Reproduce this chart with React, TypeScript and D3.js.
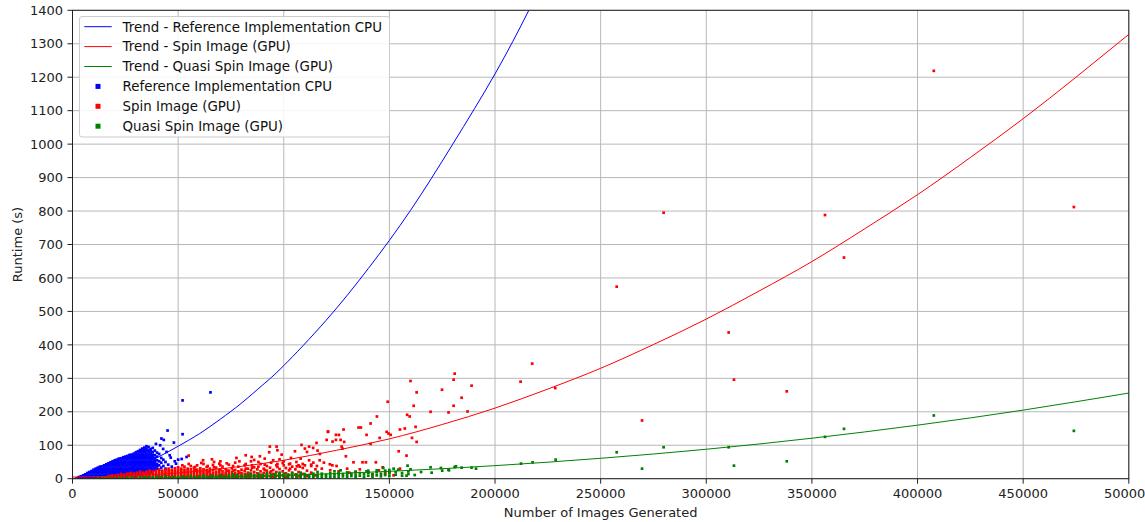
import * as d3 from "d3";
import { useEffect, useRef } from "react";

const xTicks = [0, 50000, 100000, 150000, 200000, 250000, 300000, 350000, 400000, 450000, 500000];
const yTicks = [0, 100, 200, 300, 400, 500, 600, 700, 800, 900, 1000, 1100, 1200, 1300, 1400];

// trend curves, x in thousands of images, y in seconds
const cpuTrend: [number, number][] = [
  [0, 0], [10, 5], [20, 17], [30, 37], [40, 63], [50, 97], [60, 134], [70, 178], [80, 226], [90, 280],
  [100, 338], [120, 473], [140, 628], [160, 802], [180, 1000], [200, 1210], [216, 1400], [230, 1580],
];
const spinTrend: [number, number][] = [
  [0, 5], [25, 8], [50, 17], [75, 33], [100, 55], [125, 85], [150, 119], [175, 162], [200, 211], [225, 268],
  [250, 330], [275, 401], [300, 477], [325, 561], [350, 649], [375, 747], [400, 849], [425, 960], [450, 1076],
  [475, 1200], [500, 1328],
];
const quasiTrend: [number, number][] = [
  [0, 0], [50, 3], [100, 10], [150, 22], [200, 39], [250, 61], [300, 88], [350, 121], [400, 160], [450, 205], [500, 256],
];

// scatter: dense parts as columns [x (k images), runtimes...], sparse parts as [x, y]
const cpuColumns: [number, number[]][] = [
  [2, [1]], [3, [2, 5]], [4, [2, 7]], [5, [3, 10]], [6, [2, 8, 13]], [7, [4, 11, 17]], [8, [2, 9, 16, 20]],
  [9, [5, 12, 19, 23]], [10, [2, 9, 16, 23, 27]], [11, [5, 12, 19, 26, 30]], [12, [2, 9, 16, 23, 30, 33]],
  [13, [5, 12, 19, 26, 33, 36]], [14, [2, 9, 16, 23, 30, 37]], [15, [5, 12, 19, 26, 33, 40]],
  [16, [2, 9, 16, 23, 30, 37, 43]], [17, [5, 12, 19, 26, 33, 40, 46]], [18, [2, 9, 16, 23, 30, 37, 44, 49]],
  [19, [5, 12, 19, 26, 33, 40, 47, 52]], [20, [2, 9, 16, 23, 30, 37, 44, 51, 55]],
  [21, [5, 12, 19, 26, 33, 40, 47, 54, 57]], [22, [2, 9, 16, 23, 30, 37, 44, 51, 58, 60]],
  [23, [5, 12, 19, 26, 33, 40, 47, 54, 61]], [24, [2, 9, 16, 23, 30, 37, 44, 51, 58, 64]],
  [25, [5, 12, 19, 26, 33, 40, 47, 54, 61, 66]], [26, [9, 16, 23, 30, 37, 44, 51, 58, 65, 68]],
  [27, [12, 19, 26, 33, 40, 47, 54, 61, 68, 71]], [28, [9, 16, 23, 30, 37, 44, 51, 58, 65, 72]],
  [29, [12, 19, 26, 33, 40, 47, 54, 61, 68, 75]], [30, [9, 16, 23, 30, 37, 44, 51, 58, 65, 72, 79]],
  [31, [12, 19, 26, 33, 40, 47, 54, 61, 68, 75, 82]], [32, [9, 16, 23, 30, 37, 44, 51, 58, 65, 72, 79, 86]],
  [33, [12, 19, 26, 33, 40, 47, 54, 61, 68, 75, 82, 90]], [34, [16, 23, 30, 37, 44, 51, 58, 65, 72, 79, 86, 93]],
  [35, [19, 26, 33, 40, 47, 54, 61, 68, 75, 82, 90, 97]], [36, [16, 23, 30, 37, 44, 51, 58, 65, 72, 79, 86, 95]],
  [37, [19, 26, 33, 40, 47, 54, 61, 68, 75, 82, 89]], [38, [23, 30, 37, 44, 51, 58, 65, 72, 80, 92]],
  [39, [26, 33, 40, 47, 54, 61, 70, 84]], [40, [30, 37, 44, 55, 66, 78]], [41, [27, 40, 52, 74]],
  [42, [33, 48, 62]], [43, [38, 57]], [44, [30, 50]],
];
const cpuOutliers: [number, number][] = [
  [42.1, 120], [43.2, 116], [45, 144], [48, 108], [52.1, 234], [65.3, 258], [52.1, 133], [42.9, 89], [45.3, 42],
  [48.4, 52], [50, 57], [54, 65], [51.7, 59], [46, 70], [47, 36], [44.5, 80], [49, 45], [46.5, 63], [41.5, 100], [39.5, 104],
];

const spinColumns: [number, number[]][] = [
  [14, [3]], [15.5, [4]], [17, [3, 8]], [18.5, [5, 10]], [20, [3, 9]], [21.5, [5, 11]], [23, [3, 9, 14]],
  [24.5, [6, 12]], [26, [3, 9, 15]], [27.5, [6, 12, 17]], [29, [3, 9, 15]], [30.5, [6, 12, 18]],
  [32, [3, 9, 15, 21]], [33.5, [6, 12, 18]], [35, [3, 9, 15, 21]], [36.5, [6, 12, 18, 24]], [38, [3, 9, 15, 21]],
  [39.5, [6, 12, 18, 24]], [41, [3, 9, 15, 21, 27]], [42.5, [6, 12, 18, 24]], [44, [3, 9, 15, 21, 27]],
  [45.5, [6, 12, 18, 24, 30]], [47, [3, 9, 15, 21, 27]], [48.5, [6, 12, 18, 24, 31]], [50, [3, 9, 15, 21, 27, 34]],
  [51.5, [6, 12, 18, 24, 30]], [53, [3, 9, 15, 21, 27, 36]], [54.5, [6, 12, 18, 24, 30]], [56, [3, 9, 15, 21, 28, 38]],
  [57.5, [6, 12, 18, 24, 33]], [59, [3, 9, 15, 21, 27, 40]], [60.5, [6, 12, 18, 24, 31]], [62, [3, 9, 15, 21, 28, 44]],
  [63.5, [6, 12, 18, 25, 35]], [65, [3, 9, 15, 22, 30]], [66.5, [6, 12, 18, 26, 41]], [68, [3, 9, 15, 21, 33]],
  [69.5, [6, 12, 19, 27, 45]], [71, [3, 9, 15, 22, 36]], [72.5, [6, 12, 18, 28]], [74, [3, 9, 16, 24, 42]],
  [75.5, [6, 13, 20, 31]], [77, [3, 10, 17, 26, 48]], [78.5, [6, 13, 22, 36]], [80, [3, 10, 17, 27]],
  [81.5, [6, 14, 23, 40]], [83, [3, 10, 18, 30]], [84.5, [7, 15, 25, 52]], [86, [3, 11, 20, 34]], [87.5, [7, 16, 28]],
  [89, [4, 12, 22, 44]], [90.5, [8, 17, 30]], [92, [4, 13, 24, 38]], [93.5, [8, 18, 33]], [95, [4, 14, 26, 55]],
  [96.5, [9, 20, 40]], [98, [5, 15, 29]], [99.5, [10, 22, 47]], [101, [5, 16, 32]], [102.5, [11, 25, 43]],
  [104, [6, 18, 36]], [105.5, [12, 28]], [107, [7, 20, 40]], [109, [14, 32]], [111, [8, 24]], [113, [18, 38]], [115, [10, 28]],
];
const spinFill: [number, number][] = [
  [52, 40], [55, 44], [58, 35], [61, 47], [64, 38], [67, 50], [70, 40], [73, 46], [76, 38], [79, 52], [82, 44],
  [85, 40], [88, 50], [91, 42], [94, 48], [97, 35], [100, 52], [103, 45], [106, 50], [64, 20], [70, 28], [76, 24],
  [82, 30], [88, 36], [94, 22], [100, 40], [58, 26], [67, 34], [73, 24], [79, 18], [85, 33], [91, 26], [97, 44],
  [103, 30], [109, 44], [112, 55], [114, 48], [108, 60], [98, 58], [86, 56],
];
const spinOutliers: [number, number][] = [
  [55, 69], [61.8, 55], [66, 58], [70, 52], [77.6, 62], [82, 70], [84.8, 65], [88.7, 67], [91, 60], [93.1, 79],
  [93.4, 96], [96.6, 96], [97, 85], [99, 72], [103.4, 62], [105.3, 82], [108.4, 101], [110, 90], [111, 80],
  [113.9, 92], [115.5, 107], [117.1, 74], [112, 96], [116, 84], [120.3, 116], [121, 141], [120.9, 140], [123.1, 111],
  [124.7, 116], [124.7, 131], [126.1, 131], [126.9, 116], [127.4, 96], [127.8, 90], [128.3, 147], [128.6, 110],
  [129.4, 67], [135.4, 153], [136.5, 153], [139.2, 131], [141.1, 165], [141.1, 104], [144.1, 186], [145.4, 122],
  [146.8, 34], [148.7, 140], [149.2, 230], [149.6, 135], [150.6, 131], [154.4, 82], [155, 147], [157.3, 150],
  [158.1, 69], [158.4, 191], [159.6, 186], [160, 292], [160.7, 122], [161.5, 218], [162.4, 155], [162.9, 258],
  [162.9, 110], [169.5, 200], [174.9, 266], [178, 198], [180.4, 296], [180.4, 218], [180.9, 314], [184.2, 242],
  [187, 201], [188.9, 278], [212.1, 290], [217.6, 344], [228.5, 271], [257.6, 574], [269.6, 174], [279.8, 795],
  [310.6, 437], [313.1, 296], [338.1, 261], [356.2, 788], [365.2, 661], [407.7, 1219], [474, 812],
  [121.8, 43], [123, 40], [125, 38], [133, 49], [137.3, 49], [138.9, 49], [143.6, 49], [107.6, 36], [110, 40],
  [113, 42], [115.7, 38], [118, 30], [122, 25], [126, 22], [130, 30], [134, 20], [140, 18], [145, 25], [150, 20],
  [106.2, 37], [117, 55], [119, 48], [131, 18], [136, 28], [142, 12], [148, 15], [152, 10], [155, 30],
];

const quasiColumns: [number, number[]][] = [
  [6, [1]], [8, [1]], [10, [1]], [12, [2]], [14, [1]], [16, [2]], [18, [1]], [20, [2]], [22, [1, 4]], [24, [2]],
  [26, [1, 4]], [28, [2, 5]], [30, [1]], [32, [2, 5]], [34, [1, 4]], [36, [2, 6]], [38, [1, 4]], [40, [2, 6]],
  [42, [1, 5]], [44, [2, 7]], [46, [1, 4]], [48, [2, 6]], [50, [1, 5]], [52, [2, 7]], [54, [1, 5]], [56, [2, 8]],
  [58, [1, 5]], [60, [2, 7]], [62, [1, 5, 9]], [64, [2, 6]], [66, [1, 5, 10]], [68, [3, 7]], [70, [1, 6, 11]],
  [72, [3, 8]], [74, [1, 5, 10]], [76, [3, 8, 13]], [78, [1, 6, 11]], [80, [3, 8]], [82, [1, 6, 12]],
  [84, [3, 9, 15]], [86, [1, 6, 11]], [88, [3, 8, 14]], [90, [1, 6, 11]], [92, [3, 9, 16]], [94, [1, 6, 12]],
  [96, [3, 8, 14]], [98, [1, 6, 11, 18]], [100, [3, 9, 15]], [102, [1, 6, 12]], [104, [3, 9, 16]], [106, [1, 7, 13]],
  [108, [4, 10, 18]], [110, [2, 8, 14]], [112, [5, 11]], [114, [2, 8, 15]], [116, [5, 12, 20]], [118, [2, 9, 15]],
  [120, [5, 12]], [122, [3, 9, 16]], [124, [6, 13, 22]], [126, [3, 10, 17]], [128, [7, 14]], [130, [4, 11, 19]],
  [132, [8, 15]], [134, [4, 12, 21]], [136, [9, 17]], [138, [5, 13]], [140, [9, 18, 24]], [142, [6, 14]],
  [144, [10, 19]], [146, [7, 15]], [148, [11, 20]], [150, [8, 16, 26]], [153, [12, 20]], [156, [9, 17]],
  [159, [14, 22]], [162, [11]],
];
const quasiOutliers: [number, number][] = [
  [126.9, 25], [139.2, 22], [144, 25], [147.1, 32], [154.2, 27], [158.6, 39], [158.1, 9], [169.5, 34], [174.4, 32],
  [178, 27], [178.2, 25], [180.9, 35], [181.5, 37], [184.2, 33], [188.9, 33], [191, 30], [212.3, 45], [217.8, 49],
  [228.7, 57], [257.6, 79], [269.6, 30], [279.8, 94], [310.6, 94], [313.1, 39], [338.1, 52], [356.2, 125],
  [365.2, 149], [407.7, 189], [474, 143], [165, 20], [170, 18], [175, 24], [160, 28], [152, 30], [148, 24],
];

const trendLabels = ["Trend - Reference Implementation CPU", "Trend - Spin Image (GPU)", "Trend - Quasi Spin Image (GPU)"];
const pointLabels = ["Reference Implementation CPU", "Spin Image (GPU)", "Quasi Spin Image (GPU)"];

const colors = ["#0000ff", "#ff0000", "#008000"];
const FONT = "DejaVu Sans, sans-serif";

const expand = (cols: [number, number[]][], ...extra: [number, number][][]) =>
  cols.flatMap(([x, ys]) => ys.map((y) => [x, y] as [number, number])).concat(...extra);

export default function App() {
  const ref = useRef<SVGSVGElement>(null);

  useEffect(() => {
    const W = 1145;
    const H = 522;
    const left = 72.5, right = 1128.8, top = 10.3, bottom = 478.7;

    const svg = d3.select(ref.current);
    svg.selectAll("*").remove();

    const x = d3.scaleLinear().domain([0, 500000]).range([left, right]);
    const y = d3.scaleLinear().domain([0, 1400]).range([bottom, top]);

    svg.append("rect").attr("width", W).attr("height", H).attr("fill", "#fff");

    svg.append("defs").append("clipPath").attr("id", "plot")
      .append("rect").attr("x", left).attr("y", top).attr("width", right - left).attr("height", bottom - top);

    // grid
    const grid = svg.append("g").attr("stroke", "#b8b8b8").attr("stroke-width", 1);
    grid.selectAll("line.gx").data(xTicks).join("line")
      .attr("x1", (d) => x(d)).attr("x2", (d) => x(d)).attr("y1", top).attr("y2", bottom);
    grid.selectAll("line.gy").data(yTicks).join("line")
      .attr("class", "gy")
      .attr("x1", left).attr("x2", right).attr("y1", (d) => y(d)).attr("y2", (d) => y(d));

    // scatter
    const size = 2.7;
    const sets = [
      expand(cpuColumns, cpuOutliers),
      expand(spinColumns, spinFill, spinOutliers),
      expand(quasiColumns, quasiOutliers),
    ];
    const plot = svg.append("g").attr("clip-path", "url(#plot)");
    sets.forEach((pts, i) => {
      plot.append("g").attr("fill", colors[i])
        .selectAll("rect").data(pts).join("rect")
        .attr("x", (d) => x(d[0] * 1000) - size / 2)
        .attr("y", (d) => y(d[1]) - size / 2)
        .attr("width", size).attr("height", size);
    });

    // trends
    const line = d3.line<[number, number]>()
      .x((d) => x(d[0] * 1000))
      .y((d) => y(d[1]))
      .curve(d3.curveNatural);
    [cpuTrend, spinTrend, quasiTrend].forEach((t, i) => {
      plot.append("path").attr("d", line(t)).attr("fill", "none")
        .attr("stroke", colors[i]).attr("stroke-width", 1);
    });

    // frame
    svg.append("rect").attr("x", left).attr("y", top).attr("width", right - left).attr("height", bottom - top)
      .attr("fill", "none").attr("stroke", "#222").attr("stroke-width", 1);

    // ticks
    const ax = svg.append("g").attr("font-family", FONT).attr("font-size", 13).attr("fill", "#222");
    ax.selectAll("line.tx").data(xTicks).join("line")
      .attr("x1", (d) => x(d)).attr("x2", (d) => x(d)).attr("y1", bottom).attr("y2", bottom + 5)
      .attr("stroke", "#222");
    ax.selectAll("text.tx").data(xTicks).join("text")
      .attr("x", (d) => x(d)).attr("y", 497.5).attr("text-anchor", "middle").text((d) => String(d));
    ax.selectAll("line.ty").data(yTicks).join("line")
      .attr("class", "ty")
      .attr("x1", left - 5).attr("x2", left).attr("y1", (d) => y(d)).attr("y2", (d) => y(d))
      .attr("stroke", "#222");
    ax.selectAll("text.ty").data(yTicks).join("text")
      .attr("class", "ty")
      .attr("x", left - 9.5).attr("y", (d) => y(d)).attr("dy", "0.36em").attr("text-anchor", "end")
      .text((d) => String(d));

    ax.append("text").attr("x", (left + right) / 2).attr("y", 516.5).attr("text-anchor", "middle")
      .text("Number of Images Generated");
    ax.append("text").attr("transform", `translate(22,${(top + bottom) / 2}) rotate(-90)`)
      .attr("text-anchor", "middle").text("Runtime (s)");

    // legend
    const lg = svg.append("g").attr("font-family", FONT).attr("font-size", 13.4);
    lg.append("rect").attr("x", 79.5).attr("y", 16.5).attr("width", 310).attr("height", 120.5).attr("rx", 2.5)
      .attr("fill", "#fff").attr("fill-opacity", 0.85).attr("stroke", "#cccccc");
    const rowY = (i: number) => 26.7 + i * 19.9;
    trendLabels.forEach((label, i) => {
      lg.append("line").attr("x1", 84.3).attr("x2", 111.7).attr("y1", rowY(i)).attr("y2", rowY(i))
        .attr("stroke", colors[i]).attr("stroke-width", 1);
      lg.append("text").attr("x", 122.5).attr("y", rowY(i)).attr("dy", "0.36em").attr("fill", "#111").text(label);
    });
    pointLabels.forEach((label, i) => {
      const yy = rowY(i + 3);
      lg.append("rect").attr("x", 98 - 2.5).attr("y", yy - 2.5).attr("width", 5).attr("height", 5).attr("fill", colors[i]);
      lg.append("text").attr("x", 122.5).attr("y", yy).attr("dy", "0.36em").attr("fill", "#111").text(label);
    });
  }, []);

  return (
    <div style={{ position: "absolute", left: 0, top: 0 }}>
      <svg ref={ref} width={1145} height={522} style={{ display: "block" }} />
    </div>
  );
}
